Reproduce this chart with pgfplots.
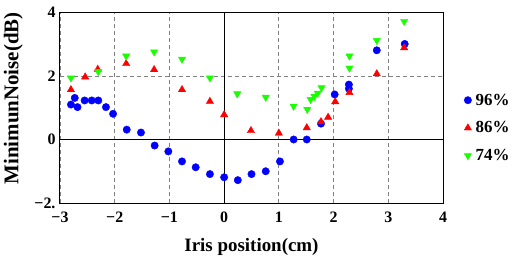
\documentclass[border=0pt]{standalone}
\usepackage{fontspec}
\setmainfont{Liberation Serif}
\usepackage{pgfplots}
\pgfplotsset{compat=1.18}
\definecolor{mblue}{rgb}{0,0,1}
\definecolor{mred}{rgb}{1,0,0}
\definecolor{mgreen}{rgb}{0.1,1,0}
\begin{document}
\begin{tikzpicture}
\path[use as bounding box] (-60bp,-56bp) rectangle (467bp,203bp);
\begin{axis}[
  at={(0,0)}, anchor=south west,
  scale only axis, width=383bp, height=190.5bp,
  xmin=-3, xmax=4, ymin=-2, ymax=4,
  xtick={-3,-2,-1,0,1,2,3,4},
  xticklabels={−3,−2,−1,0,1,2,3,4},
  ytick={-2,0,2,4},
  yticklabels={−2.,0,2,4},
  major tick length=0pt,
  axis line style={line width=1bp},
  grid=major,
  major grid style={gray, line width=0.8bp, dash pattern=on 4bp off 3bp},
  /pgf/number format/assume math mode=true,
  tick label style={font=\fontsize{16}{18}\selectfont\bfseries},
  xticklabel style={anchor=base, yshift=-19.7bp},
  yticklabel style={anchor=east, xshift=-1bp},
  xlabel={Iris position(cm)},
  ylabel={MinimunNoise(dB)},
  xlabel style={font=\fontsize{19}{21}\selectfont\bfseries, at={(axis description cs:0.5,0)}, anchor=base, yshift=-48bp},
  ylabel style={font=\fontsize{21}{23}\selectfont\bfseries, at={(axis description cs:-0.1089,0.549)}, anchor=base},
  legend style={draw=none, fill=none, at={(axis description cs:1,0.394)}, anchor=west, xshift=18bp,
    font=\fontsize{17}{19}\selectfont\bfseries, row sep=11bp, column sep=2bp},
  legend cell align=left,
  legend image code/.code={\draw[#1] plot coordinates {(0bp,0bp)};},
]
\draw[black, line width=1bp] (axis cs:0,-2) -- (axis cs:0,4);
\draw[black, line width=1bp] (axis cs:-3,0) -- (axis cs:4,0);
\addplot[only marks, mark=*, mark size=3.7bp, mblue, mark options={draw=mblue, fill=mblue}] coordinates {
(-2.80,1.10) (-2.73,1.31) (-2.68,1.02) (-2.55,1.23) (-2.42,1.23) (-2.30,1.23) (-2.16,1.02) (-2.03,0.81)
(-1.78,0.31) (-1.52,0.22) (-1.27,-0.19) (-1.02,-0.375) (-0.77,-0.69) (-0.52,-0.875) (-0.26,-1.09) (0,-1.19)
(0.25,-1.28) (0.50,-1.09) (0.76,-1.00) (1.02,-0.69) (1.27,0) (1.51,0) (1.77,0.50) (2.02,1.42)
(2.28,1.73) (2.28,1.60) (2.79,2.81) (3.30,3.01)
};
\addlegendentry{96\%}
\addplot[only marks, mark=triangle*, mark size=4.2bp, mred, mark options={draw=mred, fill=mred}] coordinates {
(-2.80,1.57) (-2.54,1.97) (-2.31,2.21) (-1.79,2.39) (-1.28,2.20) (-0.77,1.57) (-0.26,1.20) (0,0.78)
(0.49,0.28) (1.00,0.20) (1.51,0.37) (1.77,0.56) (1.90,0.70) (2.03,1.19) (2.29,1.48) (2.79,2.07) (3.29,2.89)
};
\addlegendentry{86\%}
\addplot[only marks, mark=triangle*, mark size=4.2bp, mgreen, mark options={draw=mgreen, fill=mgreen, rotate=180}] coordinates {
(-2.80,1.94) (-2.30,2.14) (-1.79,2.63) (-1.28,2.76) (-0.77,2.53) (-0.26,1.94) (0.24,1.44) (0.76,1.33)
(1.27,1.05) (1.52,0.95) (1.58,1.26) (1.65,1.36) (1.71,1.46) (1.78,1.63) (2.29,2.25) (2.29,2.63)
(2.79,3.12) (3.29,3.72)
};
\addlegendentry{74\%}
\end{axis}
\end{tikzpicture}
\end{document}
